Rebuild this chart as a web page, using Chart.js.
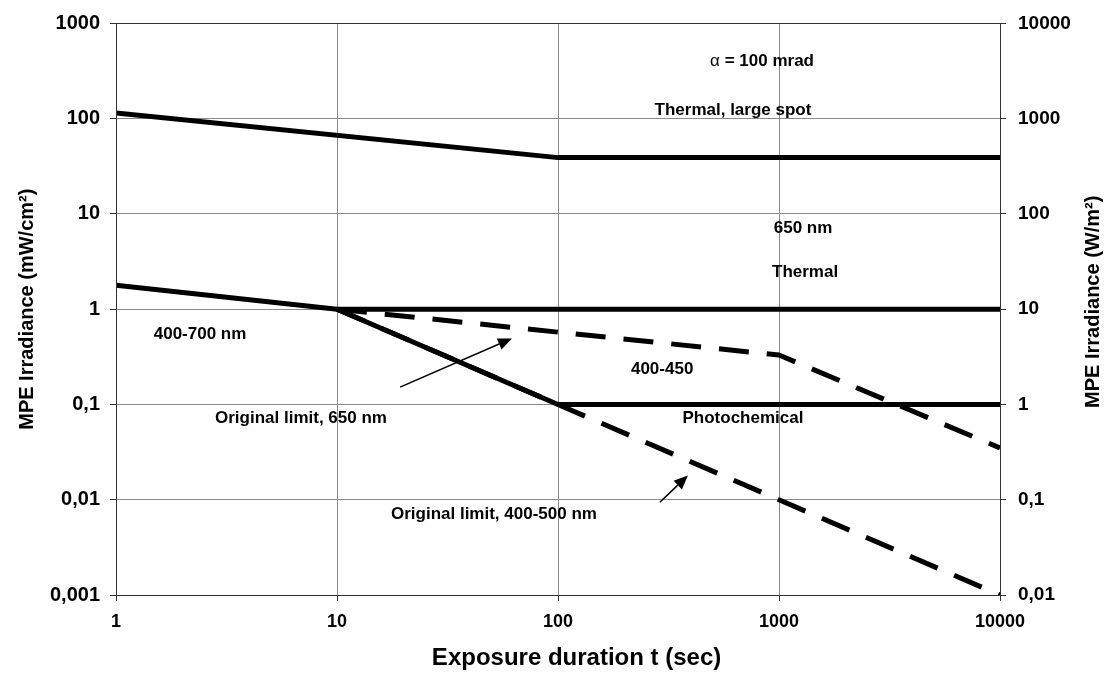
<!DOCTYPE html>
<html>
<head>
<meta charset="utf-8">
<script src="https://cdn.jsdelivr.net/npm/chart.js@4/dist/chart.umd.min.js"></script>
<style>
  html, body { margin: 0; padding: 0; background: #fff; }
  #wrap { width: 1106px; height: 673px; }
</style>
</head>
<body>
<div id="wrap"><canvas id="c" width="1106" height="673"></canvas></div>
<script>
// ---- data ----
const xTicks = [1, 10, 100, 1000, 10000];
const yTicks = [0.001, 0.01, 0.1, 1, 10, 100, 1000];
const y2Ticks = [0.01, 0.1, 1, 10, 100, 1000, 10000];

const largeSpotT = [1, 100, 10000];
const largeSpotV = [115, 39, 39];

const thermal400T = [1, 10, 10000];
const thermal400V = [1.78, 1, 1];

const photochemT = [10, 100, 10000];
const photochemV = [1, 0.1, 0.1];

const blue400450T = [10, 1000, 10000];
const blue400450V = [1, 0.33, 0.035];

const orig400500T = [10, 100, 10000];
const orig400500V = [1, 0.1, 0.001];

// annotations (in data units)
const labelTexts = ["Thermal, large spot", "650 nm", "Thermal", "400-700 nm", "400-450",
                    "Original limit, 650 nm", "Photochemical", "Original limit, 400-500 nm"];
const labelT = [619, 1285, 1312, 2.40, 296, 6.87, 687, 51.3];
const labelV = [123, 7.06, 2.46, 0.542, 0.234, 0.0723, 0.0723, 0.00706];
const alphaLabel = { t: 838, v: 397, sym: "α", rest: " = 100 mrad" };

const arrowFromT = [19.3, 289];
const arrowFromV = [0.152, 0.00942];
const arrowToT = [61.9, 387];
const arrowToV = [0.493, 0.0180];

const xTitle = 'Exposure duration t (sec)';
const rightTitle = 'MPE Irradiance (W/m²)';

function pts(ts, vs) { return ts.map((t, i) => ({ x: t, y: vs[i] })); }
function fmt(v) { return String(v).replace('.', ','); }

const FONT = "'Liberation Sans', Arial, sans-serif";

const frame = {
  id: 'frame',
  afterDatasetsDraw(chart) {
    const { ctx, chartArea: a, scales } = chart;
    const sx = scales.x, sy = scales.y;
    ctx.save();
    // arrows
    ctx.strokeStyle = '#000';
    ctx.fillStyle = '#000';
    ctx.lineWidth = 1.5;
    for (let i = 0; i < arrowFromT.length; i++) {
      const x1 = sx.getPixelForValue(arrowFromT[i]), y1 = sy.getPixelForValue(arrowFromV[i]);
      const x2 = sx.getPixelForValue(arrowToT[i]), y2 = sy.getPixelForValue(arrowToV[i]);
      const ang = Math.atan2(y2 - y1, x2 - x1);
      const L = 14, W = 6;
      const bx = x2 - L * Math.cos(ang), by = y2 - L * Math.sin(ang);
      ctx.beginPath(); ctx.moveTo(x1, y1); ctx.lineTo(bx, by); ctx.stroke();
      ctx.beginPath();
      ctx.moveTo(x2, y2);
      ctx.lineTo(bx + W * Math.sin(ang), by - W * Math.cos(ang));
      ctx.lineTo(bx - W * Math.sin(ang), by + W * Math.cos(ang));
      ctx.closePath(); ctx.fill();
    }
    // labels
    ctx.textAlign = 'center';
    ctx.textBaseline = 'middle';
    ctx.font = "bold 17px " + FONT;
    labelTexts.forEach((s, i) => {
      ctx.fillText(s, sx.getPixelForValue(labelT[i]), sy.getPixelForValue(labelV[i]));
    });
    // alpha label
    const cx = sx.getPixelForValue(alphaLabel.t), cy = sy.getPixelForValue(alphaLabel.v);
    ctx.font = "17px " + FONT;
    const w1 = ctx.measureText(alphaLabel.sym).width;
    ctx.font = "bold 17px " + FONT;
    const w2 = ctx.measureText(alphaLabel.rest).width;
    const start = cx - (w1 + w2) / 2;
    ctx.textAlign = 'left';
    ctx.font = "17px " + FONT;
    ctx.fillText(alphaLabel.sym, start, cy);
    ctx.font = "bold 17px " + FONT;
    ctx.fillText(alphaLabel.rest, start + w1, cy);
    // frame
    ctx.strokeStyle = '#333';
    ctx.lineWidth = 1;
    ctx.strokeRect(Math.round(a.left) + 0.5, Math.round(a.top) + 0.5,
                   Math.round(a.right - a.left), Math.round(a.bottom - a.top));
    // x axis title (slightly right of centre, as in the original)
    ctx.textAlign = 'center';
    ctx.textBaseline = 'middle';
    ctx.font = "bold 24px " + FONT;
    ctx.fillText(xTitle, a.left + (a.right - a.left) * 0.521, sx.bottom - 15);
    // right axis title, reading bottom-to-top
    const r = scales.y2;
    ctx.translate(r.right - 13, a.top + (a.bottom - a.top) * 0.487);
    ctx.rotate(-Math.PI / 2);
    ctx.font = "bold 20px " + FONT;
    ctx.fillText(rightTitle, 0, 0);
    ctx.restore();
  }
};

const lineBase = { showLine: true, pointRadius: 0, borderColor: '#000', borderWidth: 5,
                   fill: false, tension: 0, borderCapStyle: 'butt', borderJoinStyle: 'round' };

new Chart(document.getElementById('c'), {
  type: 'scatter',
  data: {
    datasets: [
      Object.assign({}, lineBase, { label: 'Thermal, large spot', data: pts(largeSpotT, largeSpotV), order: 1 }),
      Object.assign({}, lineBase, { label: 'Thermal 400-700 nm', data: pts(thermal400T, thermal400V), order: 1 }),
      Object.assign({}, lineBase, { label: 'Photochemical', data: pts(photochemT, photochemV), order: 1 }),
      Object.assign({}, lineBase, { label: '400-450', data: pts(blue400450T, blue400450V), borderDash: [30, 18], order: 2 }),
      Object.assign({}, lineBase, { label: 'Original limit, 400-500 nm', data: pts(orig400500T, orig400500V), borderDash: [30, 18], order: 3 })
    ]
  },
  options: {
    responsive: false,
    animation: false,
    events: [],
    layout: { padding: { top: 20, right: 0, left: 0, bottom: 0 } },
    plugins: { legend: { display: false }, tooltip: { enabled: false }, title: { display: false } },
    scales: {
      x: {
        type: 'logarithmic', position: 'bottom', min: 1, max: 10000,
        afterBuildTicks: s => { s.ticks = xTicks.map(v => ({ value: v })); },
        afterFit: s => { s.height = 78; },
        ticks: { callback: v => fmt(v), color: '#000', font: { family: FONT, weight: 'bold', size: 18 },
                 padding: 10, maxRotation: 0, autoSkip: false },
        grid: { color: '#8a8a8a', lineWidth: 1, tickLength: 6, tickColor: '#333' },
        border: { display: true, color: '#333', width: 1 },
        title: { display: false }
      },
      y: {
        type: 'logarithmic', position: 'left', min: 0.001, max: 1000,
        afterBuildTicks: s => { s.ticks = yTicks.map(v => ({ value: v })); },
        afterFit: s => { s.width = 116; },
        ticks: { callback: v => fmt(v), color: '#000', font: { family: FONT, weight: 'bold', size: 20 },
                 padding: 10, autoSkip: false },
        grid: { color: '#8a8a8a', lineWidth: 1, tickLength: 6, tickColor: '#333' },
        border: { display: true, color: '#333', width: 1 },
        title: { display: true, text: 'MPE Irradiance (mW/cm²)', color: '#000',
                 font: { family: FONT, weight: 'bold', size: 20 }, padding: { top: 15, bottom: 0 } }
      },
      y2: {
        type: 'logarithmic', position: 'right', min: 0.01, max: 10000,
        afterBuildTicks: s => { s.ticks = y2Ticks.map(v => ({ value: v })); },
        afterFit: s => { s.width = 106; },
        ticks: { callback: v => fmt(v), color: '#000', font: { family: FONT, weight: 'bold', size: 19 },
                 padding: 12, autoSkip: false },
        grid: { drawOnChartArea: false, tickLength: 6, tickColor: '#333' },
        border: { display: true, color: '#333', width: 1 },
        title: { display: false }
      }
    }
  },
  plugins: [frame]
});
</script>
</body>
</html>
